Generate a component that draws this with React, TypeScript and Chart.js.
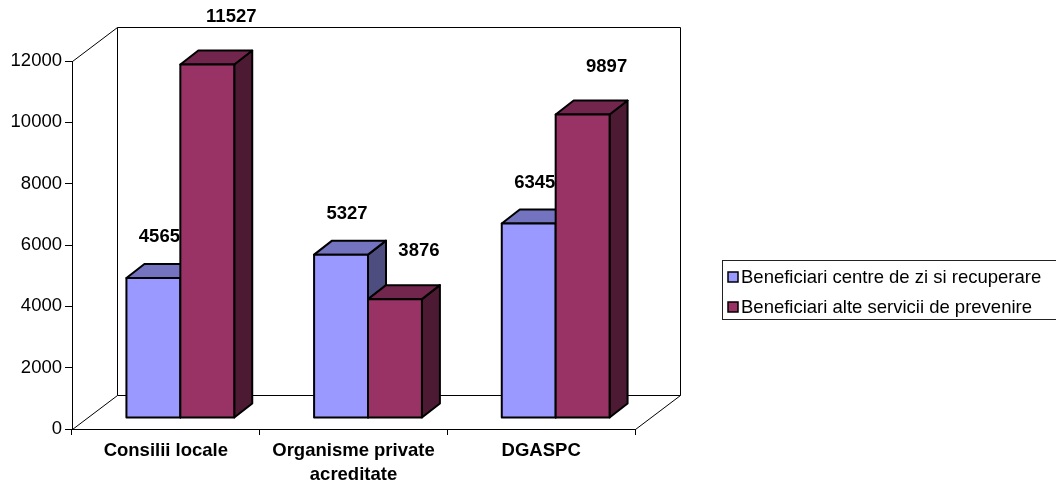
import React, { useEffect, useRef } from 'react';
import { Chart, registerables } from 'chart.js';

Chart.register(...registerables);

const categories: string[][] = [['Consilii locale'], ['Organisme private', 'acreditate'], ['DGASPC']];
const seriesNames = ['Beneficiari centre de zi si recuperare', 'Beneficiari alte servicii de prevenire'];
const centreValues = [4565, 5327, 6345];
const alteValues = [11527, 3876, 9897];
const yMin = 0;
const yMax = 12000;
const yStep = 2000;

const FONT = '"Liberation Sans", Arial, Helvetica, sans-serif';
const FS = 18.5;
const frontColors = ['#9999FF', '#993366'];
const topColors = ['#7373C0', '#73264D'];
const sideColors = ['#4D4D80', '#4D1A33'];

// 3D geometry (pixels)
const WALL_DX = 45;
const WALL_DY = 34;
const BAR_OX = 14.5;
const BAR_OY = 11;
const BAR_DX = 18;
const BAR_DY = 14;
const LABEL_DX = [6, 24];
const LABEL_DY = [41, 48];

const threeD = {
  id: 'threeD',
  beforeDatasetsDraw(chart: any) {
    const { ctx, chartArea } = chart;
    const L = chartArea.left, R = chartArea.right, T = chartArea.top, B = chartArea.bottom;
    ctx.save();
    ctx.strokeStyle = '#000';
    ctx.lineWidth = 1;
    ctx.beginPath();
    ctx.moveTo(L + 0.5, T + 0.5);
    ctx.lineTo(L + WALL_DX + 0.5, T - WALL_DY + 0.5);
    ctx.lineTo(R + WALL_DX + 0.5, T - WALL_DY + 0.5);
    ctx.lineTo(R + WALL_DX + 0.5, B - WALL_DY + 0.5);
    ctx.lineTo(L + WALL_DX + 0.5, B - WALL_DY + 0.5);
    ctx.lineTo(L + WALL_DX + 0.5, T - WALL_DY + 0.5);
    ctx.moveTo(L + 0.5, B + 0.5);
    ctx.lineTo(L + WALL_DX + 0.5, B - WALL_DY + 0.5);
    ctx.moveTo(R + 0.5, B + 0.5);
    ctx.lineTo(R + WALL_DX + 0.5, B - WALL_DY + 0.5);
    ctx.stroke();
    ctx.restore();
  },
  afterDatasetsDraw(chart: any) {
    const { ctx } = chart;
    const n = chart.data.labels.length;
    ctx.save();
    ctx.lineWidth = 2;
    ctx.lineJoin = 'round';
    ctx.strokeStyle = '#000';
    for (let i = 0; i < n; i++) {
      for (let d = 0; d < chart.data.datasets.length; d++) {
        const el = chart.getDatasetMeta(d).data[i];
        const p = el.getProps(['x', 'y', 'base', 'width'], true);
        const x0 = p.x - p.width / 2 + BAR_OX;
        const x1 = p.x + p.width / 2 + BAR_OX;
        const yT = p.y - BAR_OY;
        const yB = p.base - BAR_OY;
        ctx.beginPath();
        ctx.moveTo(x1, yT);
        ctx.lineTo(x1 + BAR_DX, yT - BAR_DY);
        ctx.lineTo(x1 + BAR_DX, yB - BAR_DY);
        ctx.lineTo(x1, yB);
        ctx.closePath();
        ctx.fillStyle = sideColors[d];
        ctx.fill();
        ctx.stroke();
        ctx.beginPath();
        ctx.moveTo(x0, yT);
        ctx.lineTo(x1, yT);
        ctx.lineTo(x1 + BAR_DX, yT - BAR_DY);
        ctx.lineTo(x0 + BAR_DX, yT - BAR_DY);
        ctx.closePath();
        ctx.fillStyle = topColors[d];
        ctx.fill();
        ctx.stroke();
        ctx.beginPath();
        ctx.rect(x0, yT, x1 - x0, yB - yT);
        ctx.fillStyle = frontColors[d];
        ctx.fill();
        ctx.stroke();
      }
    }
    ctx.fillStyle = '#000';
    ctx.font = `bold ${FS}px ${FONT}`;
    ctx.textAlign = 'center';
    ctx.textBaseline = 'middle';
    for (let d = 0; d < chart.data.datasets.length; d++) {
      const meta = chart.getDatasetMeta(d);
      meta.data.forEach((el: any, i: number) => {
        const p = el.getProps(['x', 'y'], true);
        const v = chart.data.datasets[d].data[i];
        ctx.fillText(String(v), p.x + BAR_OX + LABEL_DX[d], p.y - BAR_OY - LABEL_DY[d]);
      });
    }
    ctx.restore();
  },
  afterDraw(chart: any) {
    const { ctx } = chart;
    ctx.save();
    const bx = 722.5, by = 260.5, bw = 400, bh = 59;
    ctx.fillStyle = '#fff';
    ctx.fillRect(bx, by, bw, bh);
    ctx.strokeStyle = '#222';
    ctx.lineWidth = 1;
    ctx.strokeRect(bx, by, bw, bh);
    ctx.font = `${FS}px ${FONT}`;
    ctx.textAlign = 'left';
    ctx.textBaseline = 'middle';
    chart.data.datasets.forEach((ds: any, d: number) => {
      const cy = 277 + d * 30;
      ctx.fillStyle = frontColors[d];
      ctx.fillRect(728, cy - 5, 10, 10);
      ctx.strokeStyle = '#000';
      ctx.lineWidth = 1.5;
      ctx.strokeRect(728, cy - 5, 10, 10);
      ctx.fillStyle = '#000';
      ctx.fillText(ds.label, 741, cy + 1);
    });
    ctx.restore();
  },
};

export default function App() {
  const ref = useRef<HTMLCanvasElement | null>(null);
  useEffect(() => {
    if (!ref.current) return;
    const chart = new Chart(ref.current, {
      type: 'bar',
      data: {
        labels: categories,
        datasets: [
          { label: seriesNames[0], data: centreValues, backgroundColor: 'rgba(0,0,0,0)', borderWidth: 0 },
          { label: seriesNames[1], data: alteValues, backgroundColor: 'rgba(0,0,0,0)', borderWidth: 0 },
        ],
      },
      options: {
        animation: false,
        responsive: false,
        devicePixelRatio: 1,
        layout: { padding: { left: 0, top: 61, right: 421, bottom: 0 } },
        datasets: { bar: { categoryPercentage: 108 / 188, barPercentage: 1 } },
        plugins: { legend: { display: false }, tooltip: { enabled: false } },
        scales: {
          x: {
            offset: true,
            grid: { offset: true, drawOnChartArea: false, drawTicks: true, tickLength: 6, color: '#000' },
            border: { display: true, color: '#000', width: 1 },
            ticks: {
              color: '#000',
              font: { family: FONT, size: FS, weight: 'bold', lineHeight: 1.3 },
              padding: 4,
              maxRotation: 0,
              autoSkip: false,
            },
            afterFit: (s: any) => { s.height = 56; },
          },
          y: {
            min: yMin,
            max: yMax,
            grid: { drawOnChartArea: false, drawTicks: true, tickLength: 7, color: '#000' },
            border: { display: true, color: '#000', width: 1 },
            ticks: {
              stepSize: yStep,
              color: '#000',
              font: { family: FONT, size: FS },
              padding: 3,
              callback: (v: any) => String(v),
            },
            afterFit: (s: any) => { s.width = 72; },
          },
        },
      },
      plugins: [threeD],
    } as any);
    return () => chart.destroy();
  }, []);
  return (
    <div style={{ position: 'fixed', left: 0, top: 0, width: 1056, height: 485, background: '#fff' }}>
      <canvas ref={ref} width={1056} height={485} style={{ width: 1056, height: 485, display: 'block' }} />
    </div>
  );
}
